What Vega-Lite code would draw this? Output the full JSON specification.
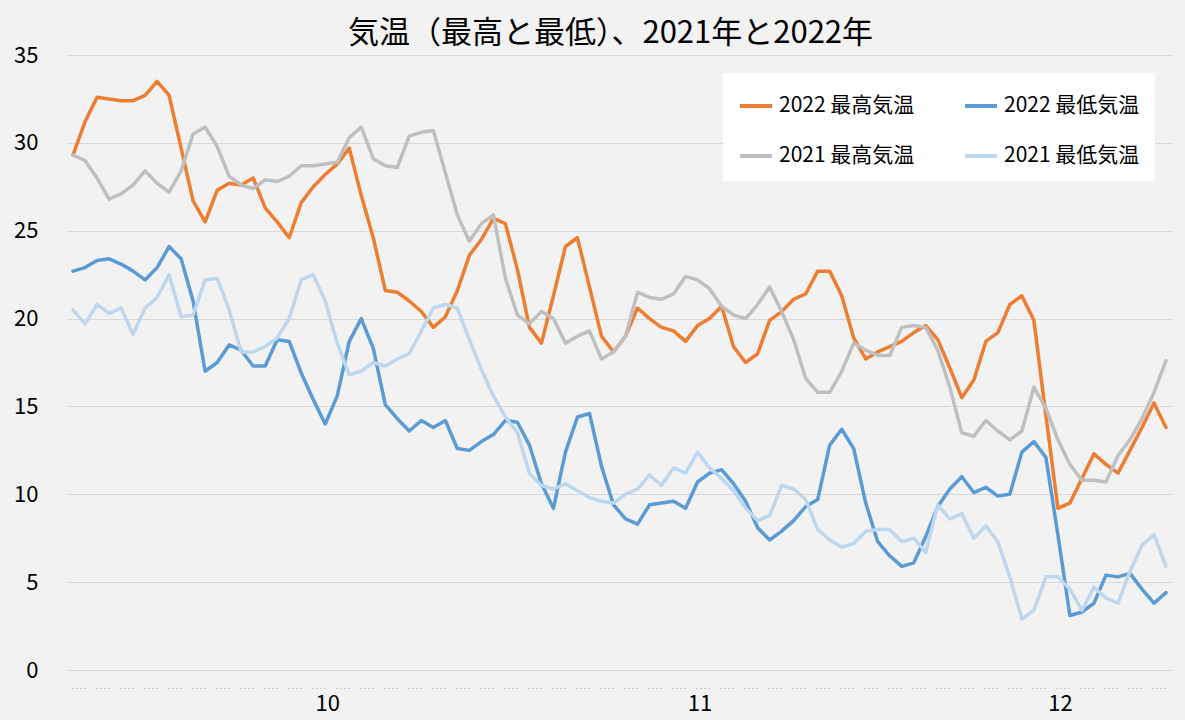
{
  "$schema": "https://vega.github.io/schema/vega-lite/v6.json",
  "autosize": {"type": "none"},
  "width": 1105,
  "height": 615,
  "padding": {"left": 67, "top": 55, "right": 13, "bottom": 50},
  "background": "#F2F2F2",
  "config": {
    "view": {"stroke": null},
    "font": "Noto Sans CJK JP"
  },
  "title": {
    "text": "気温（最高と最低）、2021年と2022年",
    "fontSize": 31,
    "fontWeight": "normal",
    "color": "#000000",
    "anchor": "middle",
    "dx": -9,
    "offset": -6
  },
  "data": {
    "values": [
      {"d": "2022/09/10", "max22": 29.3, "min22": 22.7, "max21": 29.3, "min21": 20.5},
      {"d": "2022/09/11", "max22": 31.2, "min22": 22.9, "max21": 29.0, "min21": 19.7},
      {"d": "2022/09/12", "max22": 32.6, "min22": 23.3, "max21": 28.0, "min21": 20.8},
      {"d": "2022/09/13", "max22": 32.5, "min22": 23.4, "max21": 26.8, "min21": 20.3},
      {"d": "2022/09/14", "max22": 32.4, "min22": 23.1, "max21": 27.1, "min21": 20.6},
      {"d": "2022/09/15", "max22": 32.4, "min22": 22.7, "max21": 27.6, "min21": 19.1},
      {"d": "2022/09/16", "max22": 32.7, "min22": 22.2, "max21": 28.4, "min21": 20.6},
      {"d": "2022/09/17", "max22": 33.5, "min22": 22.9, "max21": 27.7, "min21": 21.2},
      {"d": "2022/09/18", "max22": 32.7, "min22": 24.1, "max21": 27.2, "min21": 22.5},
      {"d": "2022/09/19", "max22": 29.7, "min22": 23.4, "max21": 28.4, "min21": 20.1},
      {"d": "2022/09/20", "max22": 26.7, "min22": 21.0, "max21": 30.5, "min21": 20.2},
      {"d": "2022/09/21", "max22": 25.5, "min22": 17.0, "max21": 30.9, "min21": 22.2},
      {"d": "2022/09/22", "max22": 27.3, "min22": 17.5, "max21": 29.8, "min21": 22.3},
      {"d": "2022/09/23", "max22": 27.7, "min22": 18.5, "max21": 28.1, "min21": 20.5},
      {"d": "2022/09/24", "max22": 27.6, "min22": 18.2, "max21": 27.6, "min21": 18.1},
      {"d": "2022/09/25", "max22": 28.0, "min22": 17.3, "max21": 27.4, "min21": 18.1},
      {"d": "2022/09/26", "max22": 26.3, "min22": 17.3, "max21": 27.9, "min21": 18.4},
      {"d": "2022/09/27", "max22": 25.5, "min22": 18.8, "max21": 27.8, "min21": 18.9},
      {"d": "2022/09/28", "max22": 24.6, "min22": 18.7, "max21": 28.1, "min21": 20.0},
      {"d": "2022/09/29", "max22": 26.6, "min22": 16.9, "max21": 28.7, "min21": 22.2},
      {"d": "2022/09/30", "max22": 27.5, "min22": 15.4, "max21": 28.7, "min21": 22.5},
      {"d": "2022/10/01", "max22": 28.2, "min22": 14.0, "max21": 28.8, "min21": 21.0},
      {"d": "2022/10/02", "max22": 28.8, "min22": 15.6, "max21": 28.9, "min21": 18.6},
      {"d": "2022/10/03", "max22": 29.7, "min22": 18.7, "max21": 30.3, "min21": 16.8},
      {"d": "2022/10/04", "max22": 27.0, "min22": 20.0, "max21": 30.9, "min21": 17.0},
      {"d": "2022/10/05", "max22": 24.6, "min22": 18.3, "max21": 29.1, "min21": 17.5},
      {"d": "2022/10/06", "max22": 21.6, "min22": 15.1, "max21": 28.7, "min21": 17.3},
      {"d": "2022/10/07", "max22": 21.5, "min22": 14.3, "max21": 28.6, "min21": 17.7},
      {"d": "2022/10/08", "max22": 21.0, "min22": 13.6, "max21": 30.4, "min21": 18.0},
      {"d": "2022/10/09", "max22": 20.4, "min22": 14.2, "max21": 30.6, "min21": 19.3},
      {"d": "2022/10/10", "max22": 19.5, "min22": 13.8, "max21": 30.7, "min21": 20.6},
      {"d": "2022/10/11", "max22": 20.1, "min22": 14.2, "max21": 28.3, "min21": 20.8},
      {"d": "2022/10/12", "max22": 21.6, "min22": 12.6, "max21": 25.9, "min21": 20.6},
      {"d": "2022/10/13", "max22": 23.6, "min22": 12.5, "max21": 24.4, "min21": 18.8},
      {"d": "2022/10/14", "max22": 24.5, "min22": 13.0, "max21": 25.4, "min21": 17.1},
      {"d": "2022/10/15", "max22": 25.7, "min22": 13.4, "max21": 25.9, "min21": 15.6},
      {"d": "2022/10/16", "max22": 25.4, "min22": 14.2, "max21": 22.3, "min21": 14.4},
      {"d": "2022/10/17", "max22": 22.8, "min22": 14.1, "max21": 20.2, "min21": 13.5},
      {"d": "2022/10/18", "max22": 19.5, "min22": 12.8, "max21": 19.7, "min21": 11.2},
      {"d": "2022/10/19", "max22": 18.6, "min22": 10.6, "max21": 20.4, "min21": 10.5},
      {"d": "2022/10/20", "max22": 21.3, "min22": 9.2, "max21": 20.0, "min21": 10.3},
      {"d": "2022/10/21", "max22": 24.1, "min22": 12.4, "max21": 18.6, "min21": 10.6},
      {"d": "2022/10/22", "max22": 24.6, "min22": 14.4, "max21": 19.0, "min21": 10.2},
      {"d": "2022/10/23", "max22": 21.8, "min22": 14.6, "max21": 19.3, "min21": 9.8},
      {"d": "2022/10/24", "max22": 19.0, "min22": 11.6, "max21": 17.7, "min21": 9.6},
      {"d": "2022/10/25", "max22": 18.1, "min22": 9.4, "max21": 18.1, "min21": 9.5},
      {"d": "2022/10/26", "max22": 19.0, "min22": 8.6, "max21": 19.0, "min21": 10.0},
      {"d": "2022/10/27", "max22": 20.6, "min22": 8.3, "max21": 21.5, "min21": 10.3},
      {"d": "2022/10/28", "max22": 20.0, "min22": 9.4, "max21": 21.2, "min21": 11.1},
      {"d": "2022/10/29", "max22": 19.5, "min22": 9.5, "max21": 21.1, "min21": 10.5},
      {"d": "2022/10/30", "max22": 19.3, "min22": 9.6, "max21": 21.4, "min21": 11.5},
      {"d": "2022/10/31", "max22": 18.7, "min22": 9.2, "max21": 22.4, "min21": 11.2},
      {"d": "2022/11/01", "max22": 19.6, "min22": 10.7, "max21": 22.2, "min21": 12.4},
      {"d": "2022/11/02", "max22": 20.0, "min22": 11.2, "max21": 21.7, "min21": 11.5},
      {"d": "2022/11/03", "max22": 20.7, "min22": 11.4, "max21": 20.7, "min21": 10.9},
      {"d": "2022/11/04", "max22": 18.4, "min22": 10.6, "max21": 20.2, "min21": 10.2},
      {"d": "2022/11/05", "max22": 17.5, "min22": 9.6, "max21": 20.0, "min21": 9.2},
      {"d": "2022/11/06", "max22": 18.0, "min22": 8.1, "max21": 20.8, "min21": 8.5},
      {"d": "2022/11/07", "max22": 19.9, "min22": 7.4, "max21": 21.8, "min21": 8.8},
      {"d": "2022/11/08", "max22": 20.4, "min22": 7.9, "max21": 20.4, "min21": 10.5},
      {"d": "2022/11/09", "max22": 21.1, "min22": 8.5, "max21": 18.8, "min21": 10.3},
      {"d": "2022/11/10", "max22": 21.4, "min22": 9.3, "max21": 16.6, "min21": 9.7},
      {"d": "2022/11/11", "max22": 22.7, "min22": 9.7, "max21": 15.8, "min21": 8.0},
      {"d": "2022/11/12", "max22": 22.7, "min22": 12.8, "max21": 15.8, "min21": 7.4},
      {"d": "2022/11/13", "max22": 21.3, "min22": 13.7, "max21": 17.0, "min21": 7.0},
      {"d": "2022/11/14", "max22": 18.9, "min22": 12.6, "max21": 18.6, "min21": 7.2},
      {"d": "2022/11/15", "max22": 17.7, "min22": 9.5, "max21": 18.2, "min21": 7.9},
      {"d": "2022/11/16", "max22": 18.1, "min22": 7.3, "max21": 17.9, "min21": 8.0},
      {"d": "2022/11/17", "max22": 18.4, "min22": 6.5, "max21": 17.9, "min21": 8.0},
      {"d": "2022/11/18", "max22": 18.7, "min22": 5.9, "max21": 19.5, "min21": 7.3},
      {"d": "2022/11/19", "max22": 19.2, "min22": 6.1, "max21": 19.6, "min21": 7.5},
      {"d": "2022/11/20", "max22": 19.6, "min22": 7.6, "max21": 19.5, "min21": 6.7},
      {"d": "2022/11/21", "max22": 18.8, "min22": 9.3, "max21": 18.2, "min21": 9.4},
      {"d": "2022/11/22", "max22": 17.2, "min22": 10.3, "max21": 16.1, "min21": 8.6},
      {"d": "2022/11/23", "max22": 15.5, "min22": 11.0, "max21": 13.5, "min21": 8.9},
      {"d": "2022/11/24", "max22": 16.5, "min22": 10.1, "max21": 13.3, "min21": 7.5},
      {"d": "2022/11/25", "max22": 18.7, "min22": 10.4, "max21": 14.2, "min21": 8.2},
      {"d": "2022/11/26", "max22": 19.2, "min22": 9.9, "max21": 13.6, "min21": 7.3},
      {"d": "2022/11/27", "max22": 20.8, "min22": 10.0, "max21": 13.1, "min21": 5.3},
      {"d": "2022/11/28", "max22": 21.3, "min22": 12.4, "max21": 13.6, "min21": 2.9},
      {"d": "2022/11/29", "max22": 19.9, "min22": 13.0, "max21": 16.1, "min21": 3.4},
      {"d": "2022/11/30", "max22": 14.5, "min22": 12.1, "max21": 14.9, "min21": 5.3},
      {"d": "2022/12/01", "max22": 9.2, "min22": 7.7, "max21": 13.1, "min21": 5.3},
      {"d": "2022/12/02", "max22": 9.5, "min22": 3.1, "max21": 11.7, "min21": 4.6},
      {"d": "2022/12/03", "max22": 10.9, "min22": 3.3, "max21": 10.8, "min21": 3.4},
      {"d": "2022/12/04", "max22": 12.3, "min22": 3.8, "max21": 10.8, "min21": 4.7},
      {"d": "2022/12/05", "max22": 11.7, "min22": 5.4, "max21": 10.7, "min21": 4.1},
      {"d": "2022/12/06", "max22": 11.2, "min22": 5.3, "max21": 12.2, "min21": 3.8},
      {"d": "2022/12/07", "max22": 12.5, "min22": 5.5, "max21": 13.1, "min21": 5.6},
      {"d": "2022/12/08", "max22": 13.8, "min22": 4.6, "max21": 14.3, "min21": 7.1},
      {"d": "2022/12/09", "max22": 15.2, "min22": 3.8, "max21": 15.8, "min21": 7.7},
      {"d": "2022/12/10", "max22": 13.8, "min22": 4.4, "max21": 17.6, "min21": 5.9}
    ]
  },
  "transform": [
    {"fold": ["max22", "min22", "max21", "min21"], "as": ["series", "temp"]}
  ],
  "mark": {"type": "line", "strokeWidth": 3.5, "strokeJoin": "round", "strokeCap": "round"},
  "encoding": {
    "x": {
      "field": "d",
      "type": "temporal",
      "scale": {
        "domain": [
          {"year": 2022, "month": 9, "date": 9, "hours": 12},
          {"year": 2022, "month": 12, "date": 10, "hours": 12}
        ]
      },
      "axis": {
        "title": null,
        "values": [
          {"year": 2022, "month": 10, "date": 1},
          {"year": 2022, "month": 11, "date": 1},
          {"year": 2022, "month": 12, "date": 1}
        ],
        "format": "%-m",
        "grid": false,
        "ticks": false,
        "tickSize": 0,
        "offset": 18,
        "domain": true,
        "domainColor": "#A6A6A6",
        "domainWidth": 1,
        "domainDash": [1, 3, 1, 3, 1, 3, 1, 11],
        "domainDashOffset": -5,
        "labelFontSize": 22,
        "labelColor": "#000000",
        "labelPadding": 5,
        "labelOffset": 2
      }
    },
    "y": {
      "field": "temp",
      "type": "quantitative",
      "scale": {"domain": [0, 35], "nice": false, "zero": true},
      "axis": {
        "title": null,
        "values": [0, 5, 10, 15, 20, 25, 30, 35],
        "grid": true,
        "gridColor": "#D9D9D9",
        "gridWidth": 1,
        "domain": false,
        "ticks": false,
        "labelFontSize": 22,
        "labelColor": "#000000",
        "labelPadding": 29
      }
    },
    "color": {
      "field": "series",
      "type": "nominal",
      "scale": {
        "domain": ["max22", "min22", "max21", "min21"],
        "range": ["#ED7D31", "#5B9BD5", "#BFBFBF", "#BDD7EE"]
      },
      "legend": {
        "title": null,
        "orient": "none",
        "legendX": 656,
        "legendY": 18,
        "direction": "horizontal",
        "columns": 2,
        "fillColor": "#FFFFFF",
        "padding": 15,
        "rowPadding": 22,
        "columnPadding": 42,
        "symbolType": "stroke",
        "symbolSize": 1024,
        "symbolStrokeWidth": 4,
        "labelFontSize": 21,
        "labelColor": "#000000",
        "labelOffset": 5,
        "labelExpr": "datum.label == 'max22' ? '2022 最高気温' : datum.label == 'min22' ? '2022 最低気温' : datum.label == 'max21' ? '2021 最高気温' : '2021 最低気温'"
      }
    }
  }
}
